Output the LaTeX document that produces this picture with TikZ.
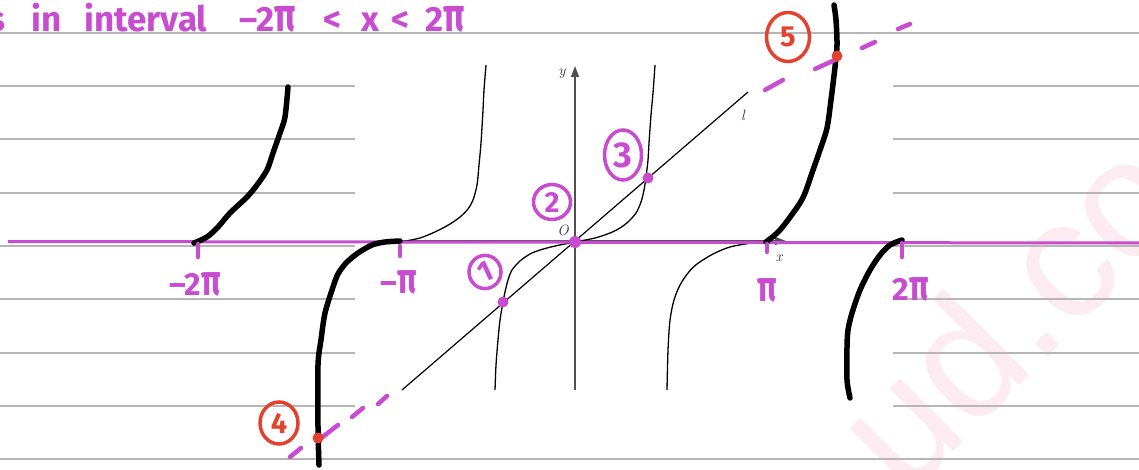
\documentclass[tikz,border=0pt]{standalone}
\usepackage{fontspec}
\usepackage{graphicx}
\usetikzlibrary{arrows.meta,shapes.geometric}
\newfontfamily\handfont{Fira Sans}
\newfontfamily\wmfont{Liberation Sans}
\newcommand{\tpi}{\scalebox{1}[1.35]{π}}
\definecolor{mag}{RGB}{199,76,208}
\definecolor{hred}{RGB}{228,66,48}
\definecolor{rulegray}{RGB}{182,182,182}
\definecolor{wmpink}{RGB}{253,235,242}
\definecolor{axisgray}{RGB}{80,80,80}
\begin{document}
\begin{tikzpicture}[x=1pt,y=-1pt,
  ruling/.style={draw=rulegray, line width=1.4},
  thincurve/.style={draw=black, line width=1.3},
  thickcurve/.style={draw=black, line width=5.5, line cap=round, line join=round},
  axisline/.style={draw=axisgray, line width=1.4},
  handline/.style={draw=mag, line width=4.5, line cap=round},
  handtext/.style={text=mag, inner sep=0, font=\handfont\bfseries\fontsize{32}{32}\selectfont},
  titletext/.style={text=mag, inner sep=0, anchor=base, font=\handfont\bfseries\fontsize{35}{35}\selectfont},
  bookl/.style={text=black!80, inner sep=0, font=\itshape\fontsize{15}{15}\selectfont},
  circnum/.style={ellipse, draw=#1, text=#1, line width=3.5, inner sep=0, font=\handfont\bfseries\fontsize{29}{29}\selectfont},
  mdot/.style={circle, fill=#1, inner sep=0, minimum size=11},
]
\useasboundingbox (0,0) rectangle (1139,470);
\fill[white] (0,0) rectangle (1139,470);

% watermark
\node[text=wmpink, inner sep=0, rotate=45, anchor=base west,
      font=\wmfont\fontsize{168}{168}\selectfont] (wmark) at (905,500) {ud.co};

% ruled lines
\draw[ruling] (0,33) -- (1139,33);
\draw[ruling] (0,459) -- (1139,459);
\foreach \yy in {86,139,193,246,299,353,406}{
  \draw[ruling] (0,\yy) -- (355,\yy);
  \draw[ruling] (893,\yy) -- (1139,\yy);
}

% title (handwritten words)
\node[titletext] (t1) at (-3,32) {s};
\node[titletext] (t2) at (47,32) {in};
\node[titletext] (t3) at (146,32) {interval};
\node[titletext] (t4) at (268,32) {–2\tpi};
\node[titletext] (t5) at (333,32) {<};
\node[titletext] (t6) at (370,32) {x};
\node[titletext] (t7) at (401,32) {<};
\node[titletext] (t8) at (445,32) {2\tpi};

% axes
\draw[axisline, -{Triangle[length=11,width=8]}] (395,241) -- (786,241);
\draw[axisline, -{Triangle[length=11,width=8]}] (575,390) -- (575,66);
\node[bookl] (ylab) at (562,74) {y};
\node[bookl] (olab) at (563,230) {O};
\node[bookl] (xlab) at (779,258) {x};
\node[bookl] (llab) at (743,115) {l};

% line l
\coordinate (lA) at (402,390);
\coordinate (lB) at (748,92);
\draw[draw=black, line width=1.2] (lA) -- (lB);

% thin textbook curves
\draw[thincurve] plot[smooth] coordinates {(400,242) (420,238) (437,231) (450,224) (460,217) (468,209) (473,200) (477,185) (479,165) (481,143) (483,110) (484,90) (486,65)};
\draw[thincurve] plot[smooth] coordinates {(495,390) (496,365) (498,340) (500,320) (503,302) (505,292) (508,280) (512,270) (520,261) (530,254) (540,250) (555,246) (575,242) (595,238) (610,233) (620,228) (628,222) (636,213) (641,202) (644,190) (646,177) (648,160) (649,143) (651,115) (653,93) (655,65)};
\draw[thincurve] plot[smooth] coordinates {(667,390) (668,350) (670,320) (674,300) (680,285) (688,273) (697,264) (713,254) (730,247) (752,243) (770,242)};

% magenta horizontal line
\draw[draw=mag, line width=3] (8,241.5) -- (1139,243);

% thick black hand curves
\draw[thickcurve] plot[smooth] coordinates {(194,243) (207,237) (218,227) (230,213) (247,197) (257,185) (267,170) (273,153) (280,133) (285,117) (288,87)};
\draw[thickcurve] plot[smooth] coordinates {(400,241) (385,242) (372,245) (358,253) (346,263) (338,274) (333,287) (325,313) (321,340) (318,365) (318,427) (319,465)};
\draw[thickcurve] plot[smooth] coordinates {(766,242) (780,230) (798,206) (805,193) (813,170) (820,150) (827,128) (831,100) (835,67) (837,45) (836,20) (834,5)};
\draw[thickcurve] plot[smooth] coordinates {(902,240) (890,245) (880,255) (870,270) (860,290) (852,313) (848,330) (847,347) (847,380) (850,398)};

% ticks
\draw[handline] (198,244) -- (198,257);
\draw[handline] (400,246) -- (400,256);
\draw[handline] (767,244) -- (767,252);
\draw[handline] (902,243) -- (902,257);

% tick labels
\node[handtext] (tm2) at (195,284) {–2\tpi};
\node[handtext] (tm1) at (399,282) {–\tpi};
\node[handtext] (tp1) at (767,290) {\tpi};
\node[handtext] (tp2) at (911,289) {2\tpi};

% dashed extensions
\draw[handline] (290,457) -- (301,448);
\draw[handline] (320,439) -- (338,425);
\draw[handline] (352,417) -- (363,408);
\draw[handline] (378,404) -- (387,396);
\draw[handline] (765,90) -- (783,80);
\draw[handline] (815,69) -- (837,59);
\draw[handline] (862,48) -- (875,42);
\draw[handline] (898,29) -- (910,24);

% intersection dots
\node[mdot=mag, minimum size=12] (p0) at (575,242) {};
\node[mdot=mag] (p1) at (503,302) {};
\node[mdot=mag] (p3) at (648,178) {};
\node[mdot=hred] (p4) at (318,438) {};
\node[mdot=hred] (p5) at (837,56) {};

% circled numbers
\node[circnum=mag, minimum width=32, minimum height=33] (c1) at (485,272) {\rotatebox{25}{1}};
\node[circnum=mag, minimum width=37, minimum height=35] (c2) at (552,202) {2};
\node[circnum=mag, minimum width=37, minimum height=50, font=\handfont\bfseries\fontsize{36}{36}\selectfont] (c3) at (623,155) {3};
\node[circnum=hred, minimum width=38, minimum height=42] (c4) at (279,423) {4};
\node[circnum=hred, minimum width=43, minimum height=49] (c5) at (788,37) {5};
\end{tikzpicture}
\end{document}
